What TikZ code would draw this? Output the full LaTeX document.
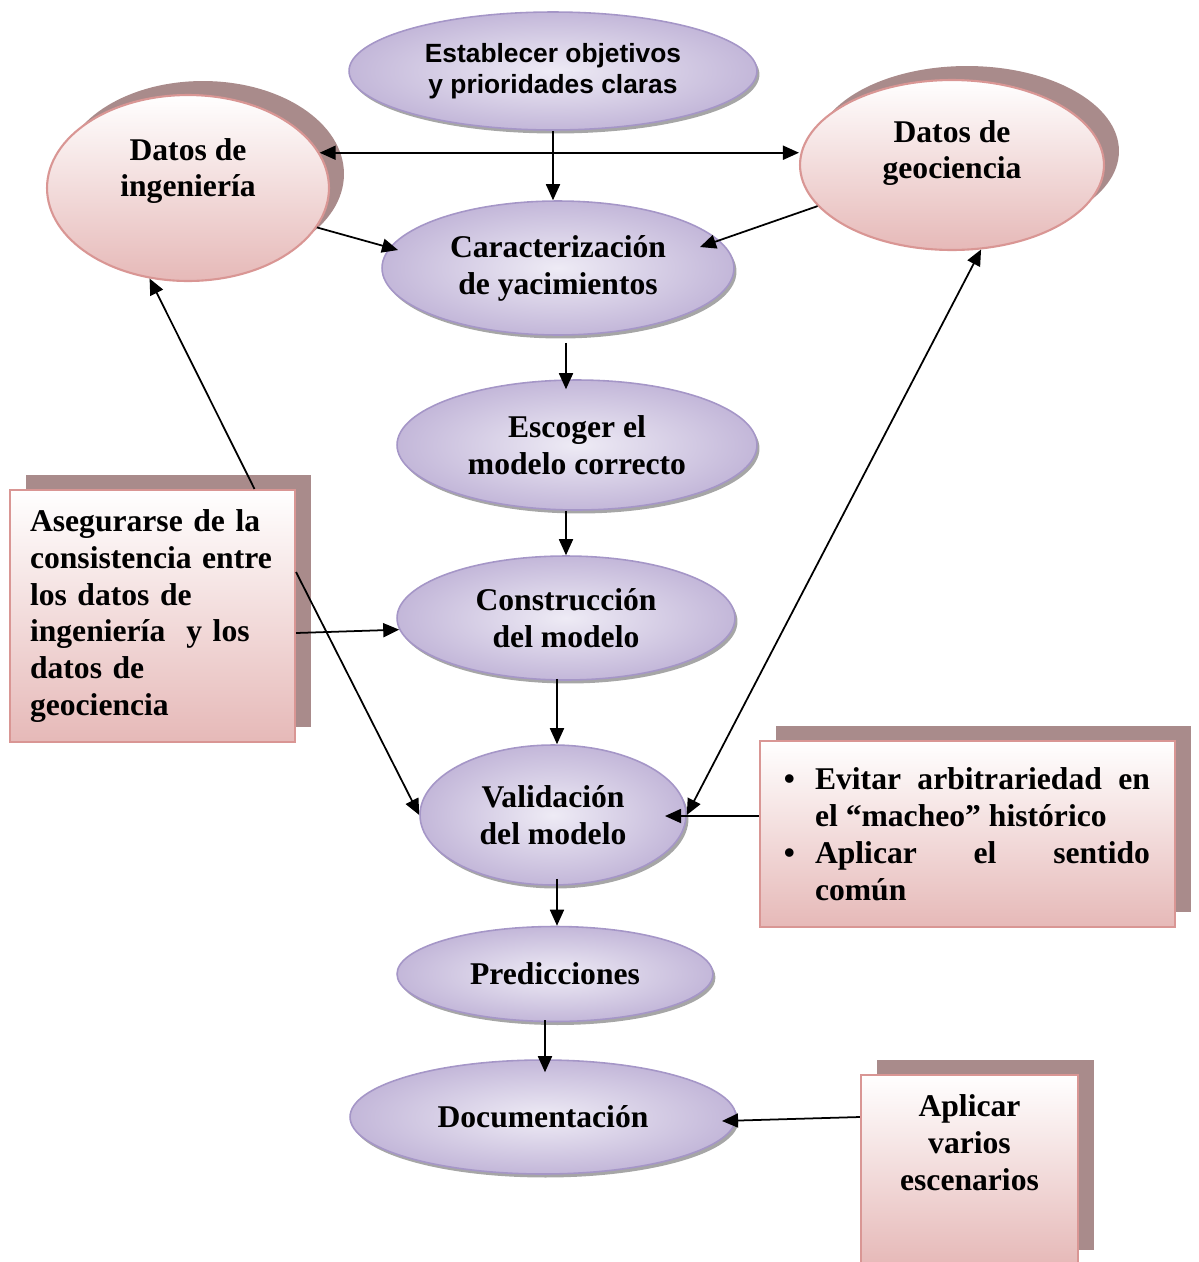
\documentclass[tikz,border=0pt]{standalone}
\usepackage{fontspec}
\setmainfont{Liberation Serif}
\newfontfamily\arialfont{Liberation Sans}
\usetikzlibrary{arrows.meta,calc,shapes.geometric,shadows}
\definecolor{lavin}{HTML}{EEEBF5}
\definecolor{lavout}{HTML}{C3B7D9}
\definecolor{lavline}{HTML}{A596C7}
\definecolor{pinkfill}{HTML}{E6B9B8}
\definecolor{pinkline}{HTML}{D99694}
\definecolor{pinkshadow}{HTML}{A98B8B}

\begin{document}
\begin{tikzpicture}[
        x=0.02cm, y=-0.02cm,
        font=\bfseries\fontsize{18}{21}\selectfont,
        procnode/.style={
            ellipse,
            draw=lavline,
            line width=0.9pt,
            inner color=lavin,
            outer color=lavout,
            general shadow={shadow xshift=0.05cm, shadow yshift=-0.07cm, fill=gray!70},
            align=center,
            inner sep=0pt
        },
        datanode/.style={
            ellipse,
            draw=pinkline,
            line width=1.2pt,
            top color=white,
            middle color=pinkfill!65!white,
            bottom color=pinkfill,
            general shadow={shadow xshift=0.3cm, shadow yshift=0.28cm, fill=pinkshadow},
            inner sep=0pt
        },
        notebox/.style={
            rectangle,
            draw=pinkline,
            line width=1.2pt,
            top color=white,
            middle color=pinkfill!65!white,
            bottom color=pinkfill,
            general shadow={shadow xshift=0.32cm, shadow yshift=0.3cm, fill=pinkshadow},
            inner sep=0pt
        },
        arrow/.style={
            -{Triangle[length=3.2mm,width=2.8mm]},
            line width=1pt
        },
        twoway/.style={
            {Triangle[length=3.2mm,width=2.8mm]}-{Triangle[length=3.2mm,width=2.8mm]},
            line width=1pt
        }
    ]

        \useasboundingbox (0,0) rectangle (1199,1262);

        % Columna central: etapas del proceso
        \node[procnode, minimum width=8.16cm, minimum height=2.36cm,
            font=\arialfont\bfseries\fontsize{15}{17.6}\selectfont] (obj) at (553,71)
            {Establecer objetivos\\y prioridades claras};
        \node[procnode, minimum width=7.04cm, minimum height=2.68cm] (car) at (558,268)
            {Caracterización\\de yacimientos};
        \node[procnode, minimum width=7.2cm, minimum height=2.6cm] (esc) at (577,445)
            {Escoger el\\modelo correcto};
        \node[procnode, minimum width=6.76cm, minimum height=2.48cm] (con) at (566,618)
            {Construcción\\del modelo};
        \node[procnode, minimum width=5.32cm, minimum height=2.8cm] (val) at (553,815)
            {Validación\\del modelo};
        \node[procnode, minimum width=6.32cm, minimum height=1.9cm] (pre) at (555,974)
            {Predicciones};
        \node[procnode, minimum width=7.72cm, minimum height=2.28cm] (doc) at (543,1117)
            {Documentación};

        % Fuentes de datos
        \node[datanode, minimum width=5.64cm, minimum height=3.72cm] (ing) at (188,188) {};
        \node[align=center] (ing-text) at ($(ing.center)+(0,-17)$) {Datos de\\ingeniería};
        \node[datanode, minimum width=6.08cm, minimum height=3.4cm] (geo) at (952,165) {};
        \node[align=center] (geo-text) at ($(geo.center)+(0,-12)$) {Datos de\\geociencia};

        % Recuadros de recomendaciones
        \node[notebox, minimum width=5.7cm, minimum height=5.04cm,
            text width=4.9cm, inner xsep=0.4cm, align=left] (ase) at (152.5,616)
            {Asegurarse de la\\consistencia entre\\los datos de\\ingeniería\ \ y los\\datos de\\geociencia};

        \node[notebox, minimum width=8.3cm, minimum height=3.72cm,
            text width=7.3cm, align=justify] (bul) at (967.5,834)
            {\hyphenpenalty=10000 \tolerance=10000
             \noindent\hangindent=0.6cm\hangafter=0\llap{•\hspace{0.4cm}}Evitar arbitrariedad en el “macheo” histórico\par
             \noindent\hangindent=0.6cm\hangafter=0\llap{•\hspace{0.4cm}}Aplicar el sentido\linebreak común\par};

        \node[notebox, minimum width=4.34cm, minimum height=3.8cm] (var) at (969.5,1170) {};
        \node[align=center] (var-text) at ($(var.center)+(0,-27)$) {Aplicar\\varios\\escenarios};

        % Flujo principal
        \draw[arrow] (obj.south) -- (obj.south |- car.north);
        \draw[arrow] ($(car.south)+(8,7)$) -- ($(esc.north)+(-11,10)$);
        \draw[arrow] ($(esc.south)+(-11,0)$) -- (con.north);
        \draw[arrow] ($(con.south)+(-9,-2)$) -- ($(val.north)+(4,0)$);
        \draw[arrow] ($(val.south)+(4,-7)$) -- ($(pre.north)+(2,0)$);
        \draw[arrow] ($(pre.south)+(-10,-2)$) -- ($(doc.north)+(2,13)$);

        % Datos hacia la caracterización
        \draw[twoway] (ing.15) -- (ing.15 -| geo.west);
        \draw[arrow] (ing.-17) -- ($(car.center)+(-160,-18)$);
        \draw[arrow] (geo.197) -- ($(car.center)+(142,-21)$);

        % Recuadros hacia las etapas
        \draw[arrow] ($(ase.north)+(102,0)$) -- (ing.247);
        \draw[arrow] ($(ase.east)+(0,17)$) -- (con.184);
        \draw[arrow] ($(ase.east)+(0,-44)$) -- (val.west);
        \draw[arrow] ($(bul.west)+(0,-18)$) -- ($(val.center)+(112,1)$);
        \draw[twoway] (val.east) -- (geo.-71);
        \draw[arrow] ($(var.west)+(0,-53)$) -- ($(doc.center)+(179,4)$);

    \end{tikzpicture}
\end{document}
